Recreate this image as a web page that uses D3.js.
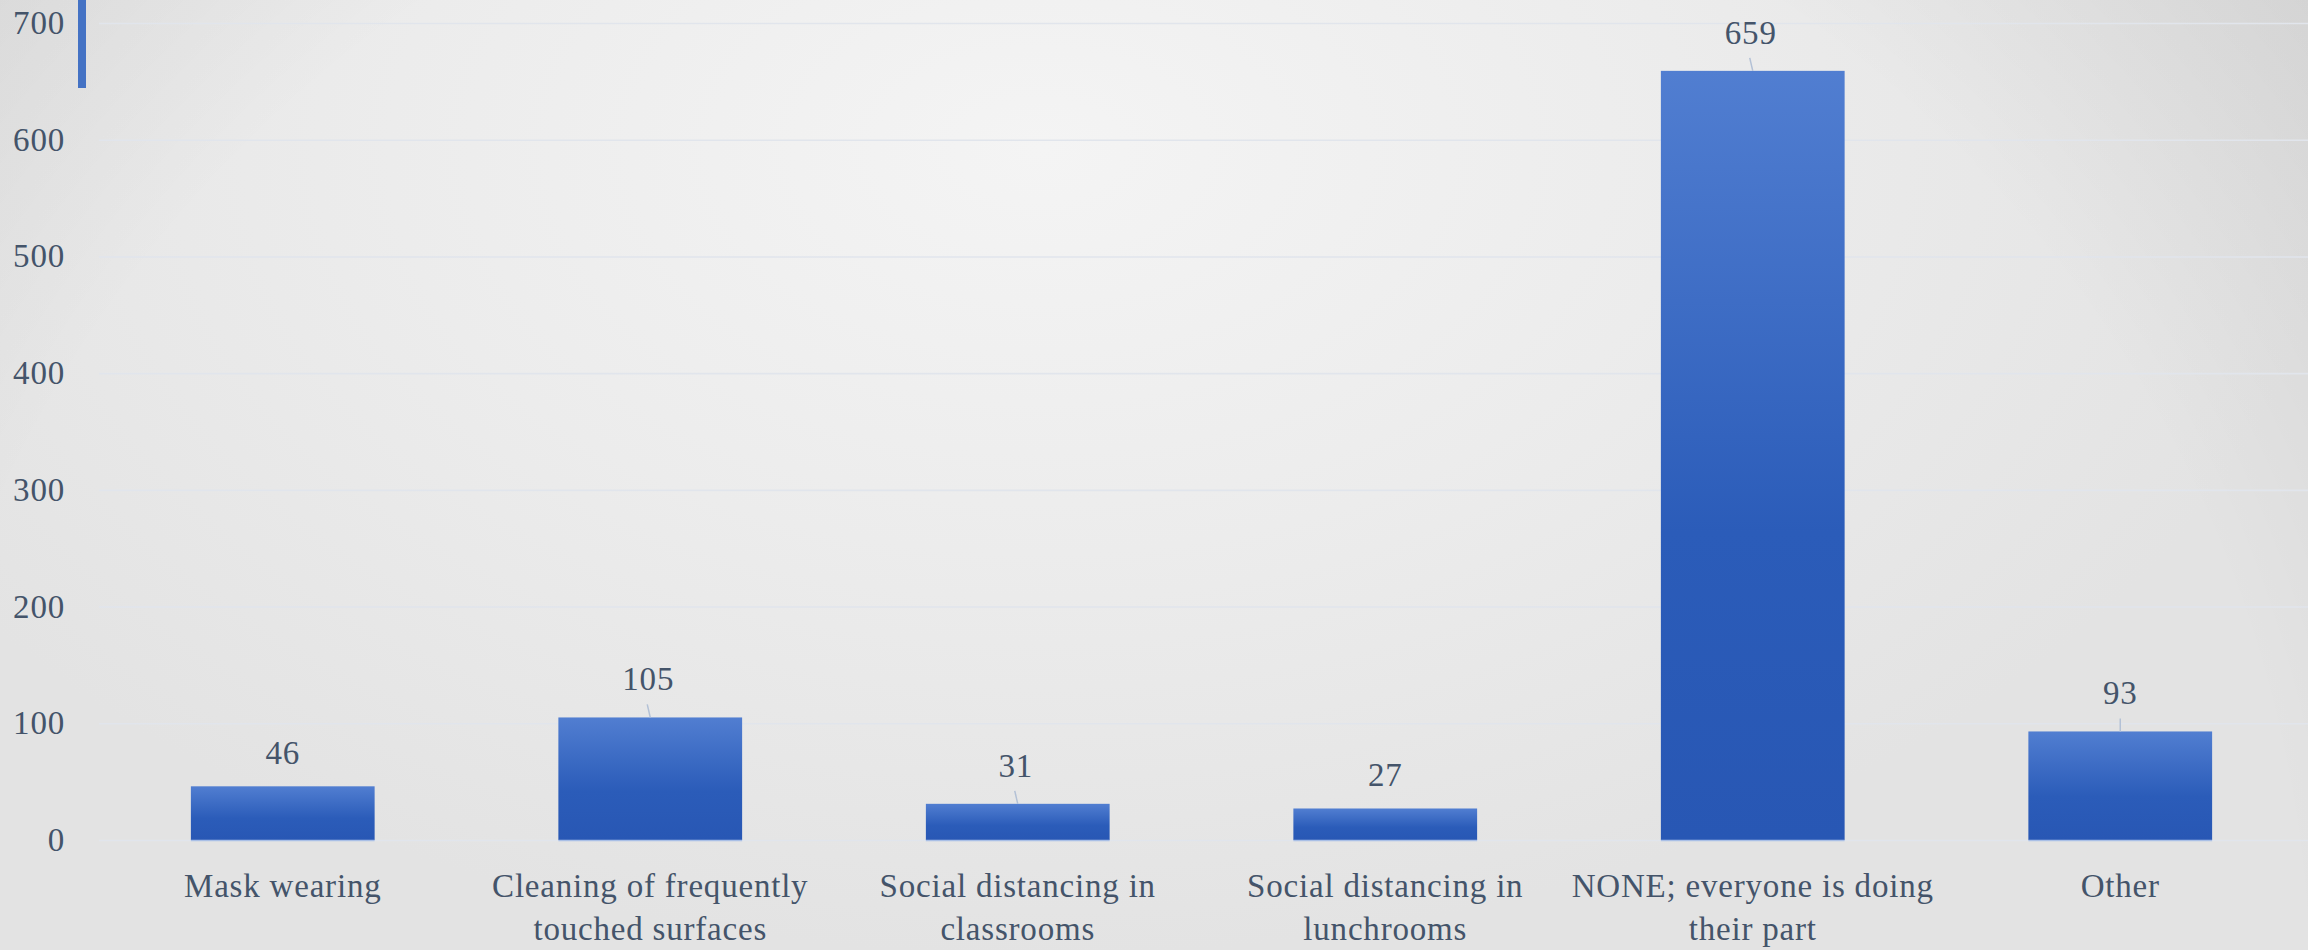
<!DOCTYPE html>
<html>
<head>
<meta charset="utf-8">
<script src="https://cdn.jsdelivr.net/npm/d3@7"></script>
<style>
  html, body { margin: 0; padding: 0; overflow: hidden; background: #e6e6e6; }
  svg { display: block; }
  .txt { font-family: "Liberation Serif", "Times New Roman", serif; font-size: 33px; fill: #44546a; letter-spacing: 0.8px; }
</style>
</head>
<body>
<svg id="chart" width="2308" height="950"></svg>
<script>
// Responses: which measure people feel is not needed
const categories = [
  ["Mask wearing"],
  ["Cleaning of frequently", "touched surfaces"],
  ["Social distancing in", "classrooms"],
  ["Social distancing in", "lunchrooms"],
  ["NONE; everyone is doing", "their part"],
  ["Other"]
];
const values = [46, 105, 31, 27, 659, 93];
const yTicks = [0, 100, 200, 300, 400, 500, 600, 700];
// labels pushed up with a short connector line
const labelLeaders = [false, true, true, false, true, true];

const W = 2308, H = 950;
const margin = { left: 99, right: 4, top: 23, bottom: 110 };
const svg = d3.select("#chart");
const defs = svg.append("defs");

// soft radial backdrop: bright spot upper centre
const bg = defs.append("radialGradient")
  .attr("id", "bgGrad")
  .attr("gradientUnits", "userSpaceOnUse")
  .attr("cx", 1040).attr("cy", 150).attr("r", 1300)
  .attr("gradientTransform", "translate(1040,150) scale(1,0.62) translate(-1040,-150)");
bg.append("stop").attr("offset", 0).attr("stop-color", "#f4f4f4");
bg.append("stop").attr("offset", 0.5).attr("stop-color", "#ececec");
bg.append("stop").attr("offset", 1).attr("stop-color", "#e3e3e3");
svg.append("rect").attr("width", W).attr("height", H).attr("fill", "url(#bgGrad)");

// darker vignette toward the upper corners
const vg = defs.append("radialGradient")
  .attr("id", "vigGrad")
  .attr("gradientUnits", "userSpaceOnUse")
  .attr("cx", 1100).attr("cy", 1000).attr("r", 1620);
vg.append("stop").attr("offset", 0).attr("stop-color", "#000").attr("stop-opacity", 0);
vg.append("stop").attr("offset", 0.74).attr("stop-color", "#000").attr("stop-opacity", 0);
vg.append("stop").attr("offset", 1).attr("stop-color", "#000").attr("stop-opacity", 0.075);
svg.append("rect").attr("width", W).attr("height", H).attr("fill", "url(#vigGrad)");

// bar fill
const bar = defs.append("linearGradient")
  .attr("id", "barGrad").attr("x1", 0).attr("y1", 0).attr("x2", 0).attr("y2", 1);
bar.append("stop").attr("offset", 0).attr("stop-color", "#517ed1");
bar.append("stop").attr("offset", 0.6).attr("stop-color", "#2b5cb9");
bar.append("stop").attr("offset", 1).attr("stop-color", "#2857b4");

const x = d3.scaleBand()
  .domain(d3.range(categories.length))
  .range([margin.left, W - margin.right])
  .paddingInner(0.5)
  .paddingOuter(0.25);

const y = d3.scaleLinear()
  .domain([0, 700])
  .range([840, margin.top]);

// accent mark
svg.append("rect").attr("x", 78).attr("y", 0).attr("width", 8).attr("height", 88).attr("fill", "#4472c4");

// y axis with gridlines
const yAxis = svg.append("g")
  .attr("transform", `translate(${margin.left},0)`)
  .call(d3.axisLeft(y).tickValues(yTicks).tickSize(-(W - margin.left)).tickPadding(34).tickFormat(d3.format("d")));
yAxis.select(".domain").remove();
yAxis.selectAll(".tick line").attr("stroke", "#e1e5ec").attr("stroke-width", 1.6);
yAxis.selectAll(".tick text").attr("class", "txt").attr("dy", "0.32em").attr("fill", null);

// bars
const cx = i => x(i) + x.bandwidth() / 2;
svg.append("g").selectAll("rect")
  .data(values)
  .join("rect")
  .attr("x", (d, i) => x(i))
  .attr("y", d => y(d))
  .attr("width", x.bandwidth())
  .attr("height", d => y(0) - y(d))
  .attr("fill", "url(#barGrad)");

// light edge under each bar
svg.append("g").selectAll("line")
  .data(values)
  .join("line")
  .attr("x1", (d, i) => x(i)).attr("x2", (d, i) => x(i) + x.bandwidth())
  .attr("y1", y(0) + 0.5).attr("y2", y(0) + 0.5)
  .attr("stroke", "#a9bfe6").attr("stroke-width", 1.5);

// connector lines
svg.append("g").selectAll("line")
  .data(values.map((v, i) => ({ v, i })).filter(d => labelLeaders[d.i]))
  .join("line")
  .attr("x1", d => cx(d.i) - (d.i === 5 ? 0 : 3))
  .attr("y1", d => y(d.v) - 13)
  .attr("x2", d => cx(d.i))
  .attr("y2", d => y(d.v))
  .attr("stroke", "#b3c1d6").attr("stroke-width", 1.5);

// value labels
svg.append("g").selectAll("text")
  .data(values)
  .join("text")
  .attr("class", "txt")
  .attr("text-anchor", "middle")
  .attr("x", (d, i) => cx(i) - (labelLeaders[i] && i !== 5 ? 2 : 0))
  .attr("y", (d, i) => y(d) - (labelLeaders[i] ? 27 : 22))
  .text(d => d);

// category axis
const xAxis = svg.append("g")
  .attr("transform", `translate(0,${y(0)})`)
  .call(d3.axisBottom(x).tickSize(0).tickFormat(""));
xAxis.select(".domain").remove();
xAxis.selectAll(".tick").each(function (i) {
  const t = d3.select(this).append("text")
    .attr("class", "txt")
    .attr("text-anchor", "middle")
    .attr("y", 57);
  categories[i].forEach((line, k) => {
    t.append("tspan").attr("x", 0).attr("dy", k === 0 ? 0 : 43).text(line);
  });
});
</script>
</body>
</html>
